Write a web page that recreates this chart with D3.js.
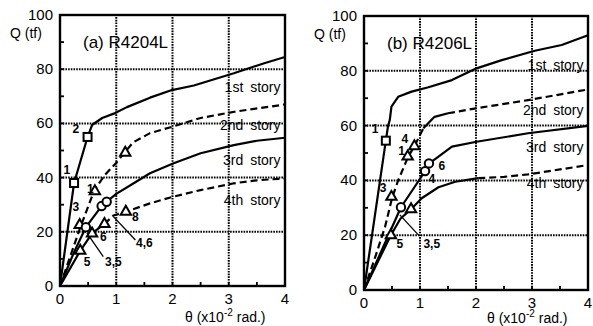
<!DOCTYPE html>
<html>
<head>
<meta charset="utf-8">
<script src="https://cdn.jsdelivr.net/npm/d3@7"></script>
<style>
  body { margin: 0; background: #fff; }
  svg { display: block; font-family: "Liberation Sans", Arial, Helvetica, sans-serif; }
</style>
</head>
<body>
<svg id="chart" width="593" height="326"></svg>
<script>
// ---- data (theta in x10^-2 rad, Q in tf) ----
const xTicks = [0, 1, 2, 3, 4];
const yTicks = [0, 20, 40, 60, 80, 100];
const storyNames = ["1st story", "2nd story", "3rd story", "4th story"];

// (a) R4204L
const a1 = [[0,0],[0.25,38],[0.49,55],[0.57,59.4],[0.75,62],[0.98,63.8],[1.19,66],[1.6,69.5],[1.99,72.3],[2.38,74],[3.09,78.5],[3.63,82.2],[4.0,84.5]];
const a2 = [[0,0],[0.35,21],[0.61,35.4],[0.8,41],[1.0,45.5],[1.16,49.5],[1.3,53],[1.6,56.4],[2.0,58.8],[2.5,62],[3.1,64.3],[4.0,67]];
const a3 = [[0,0],[0.25,12.5],[0.46,21.7],[0.74,29.5],[0.83,31.1],[1.0,34],[1.31,37.9],[1.6,41.6],[2.02,45.3],[2.5,49],[3.09,52],[3.5,53.6],[4.0,54.7]];
const a4 = [[0,0],[0.36,13],[0.57,19.4],[0.79,22.9],[0.95,26],[1.17,27.4],[1.6,30.5],[2.02,33],[2.5,35.4],[3.09,37.9],[3.5,39],[4.0,39.7]];
const aSquares = [[0.25,38],[0.49,55]];
const aTriangles = [[0.35,22.5],[0.62,35],[1.16,49.2],[0.36,13],[0.57,19.4],[0.79,22.9],[1.17,27.4]];
const aCircles = [[0.46,21.7],[0.74,29.5],[0.83,31.1]];
const aLabels = [[0.12,42.5,"1"],[0.28,57.8,"2"],[0.54,35.4,"1"],[0.28,28.7,"3"],[0.77,17.6,"6"],[0.48,8.4,"5"],[0.95,8.4,"3,5"],[1.5,15.5,"4,6"],[1.34,25.3,"8"]];
const aLeaders = [[0.77,10.8,0.48,19.5],[1.34,17,0.95,25.6]];
const aStoryQ = [71.6, 57.6, 44.6, 29.9];

// (b) R4206L
const b1 = [[0,0],[0.39,54.5],[0.43,60],[0.46,62],[0.49,66.9],[0.61,70.5],[0.85,72.4],[1.15,74],[1.57,76.6],[2.01,80.9],[2.46,83.9],[3.05,87.3],[3.53,89.4],[4.0,93]];
const b2 = [[0,0],[0.2,12],[0.375,23],[0.5,33.5],[0.61,40],[0.79,48.7],[0.9,52.5],[1.06,59],[1.26,63.2],[1.5,64.5],[2.0,66.3],[2.93,69.3],[4.0,73.2]];
const b3 = [[0,0],[0.66,30.2],[0.9,37.5],[1.09,43.4],[1.16,46.2],[1.27,47.8],[1.57,52.3],[2.01,54.1],[2.93,57.2],[4.0,59.9]];
const b4 = [[0,0],[0.48,20],[0.65,26],[0.84,29.5],[1.03,33.5],[1.33,37.5],[1.63,39.5],[2.04,40.8],[2.5,41.3],[2.93,42.2],[3.5,44],[4.0,45.6]];
const bSquares = [[0.39,54.5]];
const bTriangles = [[0.49,34],[0.78,48.7],[0.9,52.5],[0.48,20],[0.84,29.5]];
const bCircles = [[0.66,30.2],[1.09,43.4],[1.16,46.2]];
const bLabels = [[0.2,58.4,"1"],[0.73,54.7,"4"],[0.67,50.5,"1"],[0.34,37.1,"3"],[1.39,45,"6"],[1.21,40.1,"4"],[0.64,16.4,"5"],[1.21,16.4,"3,5"]];
const bLeaders = [[0.97,20.1,0.64,27.4]];
const bStoryQ = [80.3, 63.9, 50.4, 37.2];

const svg = d3.select("#chart");

// split a curve into solid / dashed runs, decided by theta at segment midpoint
function drawCurve(g, x, y, pts, isDashed) {
  const line = d3.line().x(d => x(d[0])).y(d => y(d[1]));
  let runs = [];
  for (let i = 1; i < pts.length; i++) {
    const dashed = isDashed((pts[i - 1][0] + pts[i][0]) / 2);
    const last = runs[runs.length - 1];
    if (last && last.dashed === dashed) last.pts.push(pts[i]);
    else runs.push({ dashed, pts: [pts[i - 1], pts[i]] });
  }
  runs.forEach(r => {
    g.append("path")
      .attr("d", line(r.pts))
      .attr("fill", "none")
      .attr("stroke", "#000")
      .attr("stroke-width", 2.2)
      .attr("stroke-linejoin", "round")
      .attr("stroke-dasharray", r.dashed ? "7,4" : null);
  });
}

function drawPanel(p) {
  const x = d3.scaleLinear().domain([0, 4]).range(p.xr);
  const y = d3.scaleLinear().domain([0, 100]).range(p.yr);
  const g = svg.append("g");

  // dotted grid
  g.selectAll(".gx").data([1, 2, 3]).join("line")
    .attr("x1", d => x(d)).attr("x2", d => x(d))
    .attr("y1", y(0)).attr("y2", y(100))
    .attr("stroke", "#000").attr("stroke-width", 2).attr("stroke-dasharray", "1.6,1.1");
  g.selectAll(".gy").data([20, 40, 60, 80]).join("line")
    .attr("y1", d => y(d)).attr("y2", d => y(d))
    .attr("x1", x(0)).attr("x2", x(4))
    .attr("stroke", "#000").attr("stroke-width", 2).attr("stroke-dasharray", "1.6,1.1");

  // minor ticks
  g.selectAll(".tx").data(d3.range(0.5, 4, 0.5)).join("line")
    .attr("x1", d => x(d)).attr("x2", d => x(d))
    .attr("y1", y(0)).attr("y2", y(0) - 4)
    .attr("stroke", "#000").attr("stroke-width", 1.8);
  g.selectAll(".ty").data(d3.range(10, 100, 10)).join("line")
    .attr("y1", d => y(d)).attr("y2", d => y(d))
    .attr("x1", x(0)).attr("x2", x(0) + 4)
    .attr("stroke", "#000").attr("stroke-width", 1.8);

  // story labels
  g.selectAll(".story").data(storyNames).join("text")
    .attr("x", x(3.92)).attr("y", (d, i) => y(p.storyQ[i]))
    .attr("text-anchor", "end")
    .attr("font-size", 14)
    .attr("word-spacing", 3)
    .text(d => d);

  // curves
  p.curves.forEach((c, i) => drawCurve(g, x, y, c, p.dash[i]));

  // leaders
  g.selectAll(".lead").data(p.leaders).join("line")
    .attr("x1", d => x(d[0])).attr("y1", d => y(d[1]))
    .attr("x2", d => x(d[2])).attr("y2", d => y(d[3]))
    .attr("stroke", "#000").attr("stroke-width", 1.3);

  // markers
  g.selectAll(".sq").data(p.squares).join("rect")
    .attr("x", d => x(d[0]) - 4).attr("y", d => y(d[1]) - 4)
    .attr("width", 8).attr("height", 8)
    .attr("fill", "#fff").attr("stroke", "#000").attr("stroke-width", 2);
  g.selectAll(".tri").data(p.triangles).join("path")
    .attr("d", d3.symbol(d3.symbolTriangle, 46))
    .attr("transform", d => `translate(${x(d[0])},${y(d[1])})`)
    .attr("fill", "#fff").attr("stroke", "#000").attr("stroke-width", 2);
  g.selectAll(".ci").data(p.circles).join("circle")
    .attr("cx", d => x(d[0])).attr("cy", d => y(d[1])).attr("r", 4.2)
    .attr("fill", "#fff").attr("stroke", "#000").attr("stroke-width", 2);

  // point labels
  g.selectAll(".lab").data(p.labels).join("text")
    .attr("x", d => x(d[0])).attr("y", d => y(d[1]))
    .attr("text-anchor", "middle").attr("dominant-baseline", "middle")
    .attr("font-size", 12).attr("font-weight", "bold")
    .text(d => d[2]);

  // frame
  g.append("rect")
    .attr("x", x(0)).attr("y", y(100))
    .attr("width", x(4) - x(0)).attr("height", y(0) - y(100))
    .attr("fill", "none").attr("stroke", "#000").attr("stroke-width", 2.4);

  // tick labels
  g.selectAll(".yl").data(yTicks).join("text")
    .attr("x", x(0) - 7).attr("y", d => y(d) + 5)
    .attr("text-anchor", "end").attr("font-size", 15)
    .text(d => d);
  g.selectAll(".xl").data(xTicks).join("text")
    .attr("x", d => x(d)).attr("y", y(0) + 18)
    .attr("text-anchor", "middle").attr("font-size", 15)
    .text(d => d);

  // axis titles
  g.append("text")
    .attr("x", x(0) - 50).attr("y", y(100) + 23)
    .attr("font-size", 14)
    .text("Q (tf)");
  const xt = g.append("text")
    .attr("x", p.xTitleX).attr("y", y(0) + p.xTitleDy)
    .attr("font-size", 14);
  xt.append("tspan").text("θ  (x10");
  xt.append("tspan").attr("dy", -6).attr("font-size", 10).text("-2");
  xt.append("tspan").attr("dy", 6).text(" rad.)");

  g.append("text")
    .attr("x", x(0) + 23).attr("y", y(100) + 33)
    .attr("font-size", 17)
    .text(p.title);
}

drawPanel({
  xr: [60, 285], yr: [286, 15],
  curves: [a1, a2, a3, a4],
  dash: [t => false, t => true, t => false, t => t > 0.8],
  squares: aSquares, triangles: aTriangles, circles: aCircles,
  labels: aLabels, leaders: aLeaders, storyQ: aStoryQ,
  title: "(a) R4204L", xTitleX: 185, xTitleDy: 36
});

drawPanel({
  xr: [364, 588], yr: [290, 16],
  curves: [b1, b2, b3, b4],
  dash: [t => false, t => t < 1.06 || t > 1.5, t => false, t => t > 2.04],
  squares: bSquares, triangles: bTriangles, circles: bCircles,
  labels: bLabels, leaders: bLeaders, storyQ: bStoryQ,
  title: "(b) R4206L", xTitleX: 487, xTitleDy: 33
});
</script>
</body>
</html>
